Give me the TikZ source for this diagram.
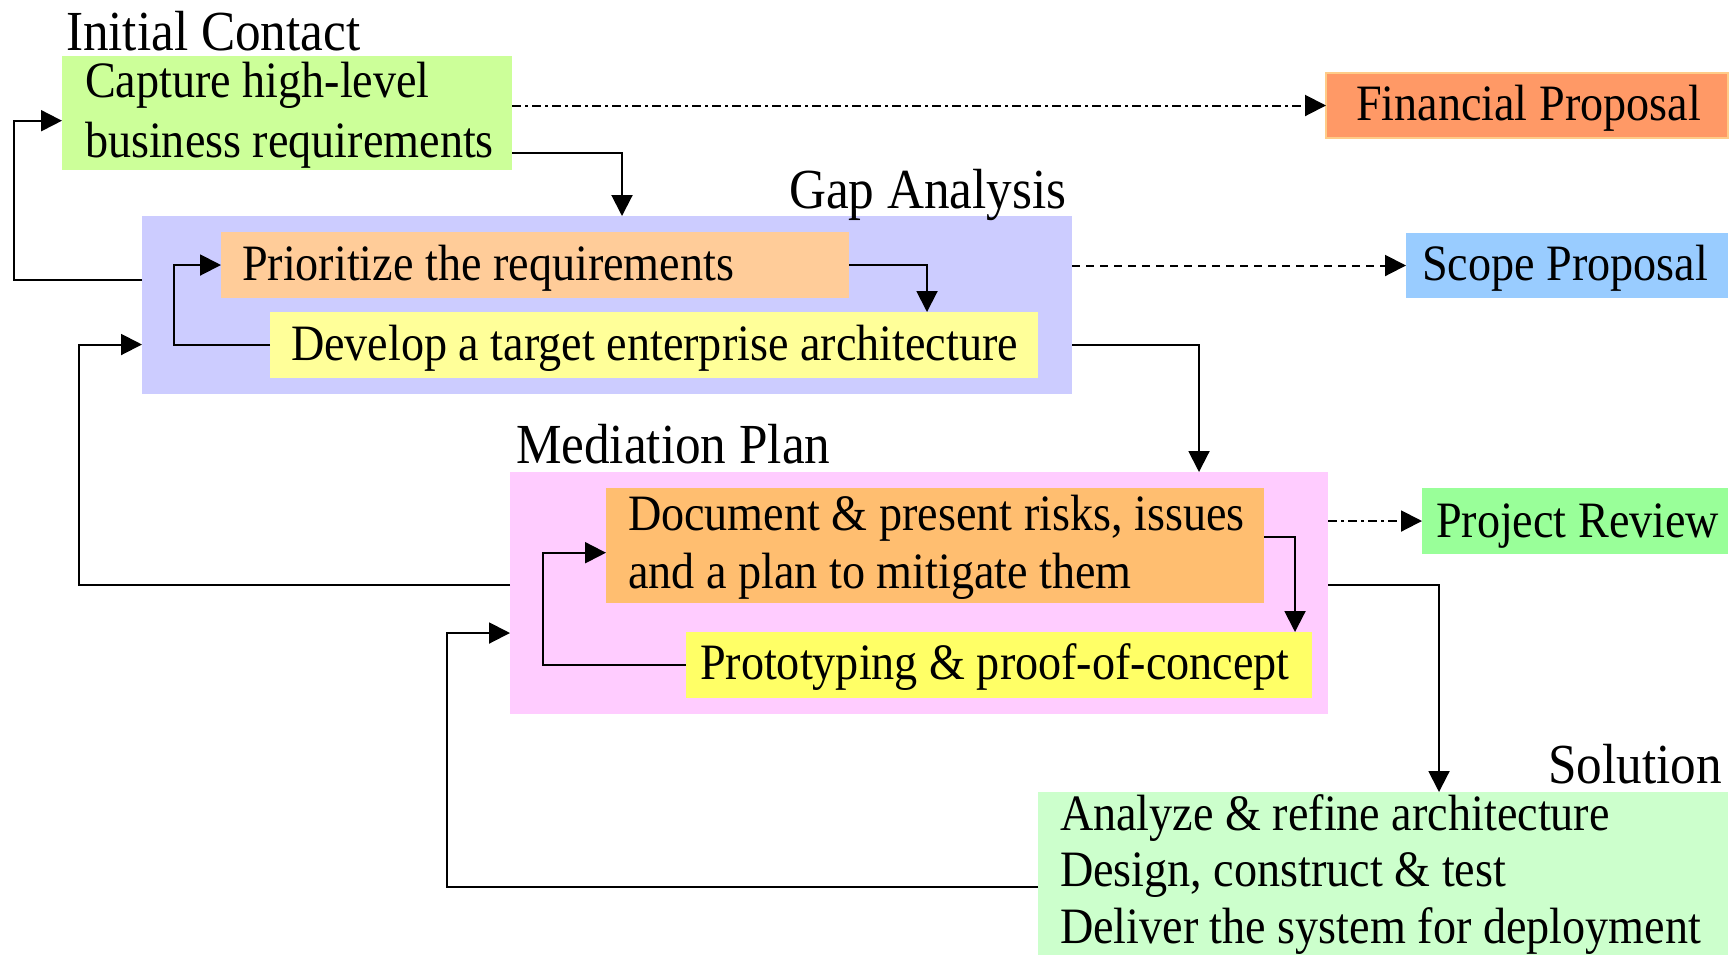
\documentclass[tikz,border=0pt]{standalone}
\usepackage{fontspec}
\setmainfont{Liberation Serif}[FakeStretch=0.905]
\usetikzlibrary{arrows.meta}
\definecolor{cgreen}{HTML}{CCFF99}
\definecolor{cfin}{HTML}{FF9966}
\definecolor{cfinb}{HTML}{FFCC88}
\definecolor{cgap}{HTML}{CCCCFF}
\definecolor{cprio}{HTML}{FFCC99}
\definecolor{cdev}{HTML}{FFFF99}
\definecolor{cscope}{HTML}{99CCFF}
\definecolor{cmed}{HTML}{FFCCFF}
\definecolor{cdoc}{HTML}{FFBE70}
\definecolor{cproto}{HTML}{FFFF66}
\definecolor{creview}{HTML}{99FF99}
\definecolor{csol}{HTML}{CCFFCC}
\tikzset{
  box/.style={rectangle, inner sep=0pt, outer sep=0pt, draw=none, anchor=north west},
  txt/.style={inner sep=0pt, outer sep=0pt, anchor=base west, font=\fontsize{25.5pt}{30pt}\selectfont},
  lbl/.style={inner sep=0pt, outer sep=0pt, font=\fontsize{28.3pt}{33pt}\selectfont},
  conn/.style={line width=1pt, line join=miter},
  arr/.style={conn, -{Triangle[length=10.5pt,width=10.5pt]}},
  darr/.style={arr, dash pattern=on 4pt off 3pt},
  ddarr/.style={arr, dash pattern=on 4.5pt off 2pt on 1.5pt off 2pt},
}
\begin{document}
\begin{tikzpicture}[x=0.5pt, y=-0.5pt]
\useasboundingbox (0,0) rectangle (1733,955);
% boxes
\node[box, fill=cgreen, minimum width=225pt, minimum height=57pt] (green) at (62,56) {};
\node[box, fill=cfin, draw=cfinb, line width=0.6pt, minimum width=201pt, minimum height=32.5pt] (fin) at (1326,73) {};
\node[box, fill=cgap, minimum width=465pt, minimum height=89pt] (gap) at (142,216) {};
\node[box, fill=cprio, minimum width=314pt, minimum height=33pt] (prio) at (221,232) {};
\node[box, fill=cdev, minimum width=384pt, minimum height=33pt] (dev) at (270,312) {};
\node[box, fill=cscope, minimum width=161pt, minimum height=32.5pt] (scope) at (1406,233) {};
\node[box, fill=cmed, minimum width=409pt, minimum height=121pt] (med) at (510,472) {};
\node[box, fill=cdoc, minimum width=329pt, minimum height=57.25pt] (doc) at (606,488) {};
\node[box, fill=cproto, minimum width=313pt, minimum height=33pt] (proto) at (686,632) {};
\node[box, fill=creview, minimum width=153pt, minimum height=33pt] (review) at (1422,488) {};
\node[box, fill=csol, minimum width=345pt, minimum height=81.5pt] (sol) at (1038,792) {};
% texts
\node[lbl, anchor=base west] (tinit) at (66,50) {Initial Contact};
\node[txt] (tcap1) at (85,97.5) {Capture high-level};
\node[txt] (tcap2) at (85,157.5) {business requirements};
\node[txt] (tfin) at (1356,120.7) {Financial Proposal};
\node[lbl, anchor=base east] (tgap) at (1066.5,208) {Gap Analysis};
\node[txt] (tprio) at (242,280) {Prioritize the requirements};
\node[txt] (tdev) at (291,360) {Develop a target enterprise architecture};
\node[txt] (tscope) at (1422,280) {Scope Proposal};
\node[lbl, anchor=base west] (tmed) at (516,463.5) {Mediation Plan};
\node[txt] (tdoc1) at (628,530) {Document \& present risks, issues};
\node[txt] (tdoc2) at (628,588.3) {and a plan to mitigate them};
\node[txt] (tproto) at (700,679.5) {Prototyping \& proof-of-concept};
\node[txt] (treview) at (1436,537.3) {Project Review};
\node[lbl, anchor=base east] (tsol) at (1722,783.3) {Solution};
\node[txt] (tsol1) at (1060,830) {Analyze \& refine architecture};
\node[txt] (tsol2) at (1060,886.7) {Design, construct \& test};
\node[txt] (tsol3) at (1060,943) {Deliver the system for deployment};
% bend points
\coordinate (L1) at (14,280);
\coordinate (L1t) at (14,120.7);
\coordinate (A) at (622,153);
\coordinate (B) at (927,265);
\coordinate (C) at (174,345);
\coordinate (D) at (1199,344.5);
\coordinate (E) at (79,585);
\coordinate (F) at (1295,537);
\coordinate (G) at (543,665);
\coordinate (H) at (543,552.7);
\coordinate (J) at (1439,585);
\coordinate (K) at (447,887);
\coordinate (K2) at (447,633);
% connectors
\draw[arr] (gap.west |- L1) -- (L1) -- (L1t) -- (green.west |- L1t);
\draw[arr] (green.east |- A) -- (A) -- (gap.north -| A);
\draw[ddarr] (green.east |- fin.west) -- (fin.west);
\draw[arr] (prio.east) -- (B) -- (dev.north -| B);
\draw[arr] (dev.west) -- (C) |- (prio.west);
\draw[darr] (gap.east |- scope.west) -- (scope.west);
\draw[arr] (gap.east |- D) -- (D) -- (med.north -| D);
\draw[arr] (med.west |- E) -- (E) |- (gap.west |- D);
\draw[arr] (doc.east |- F) -- (F) -- (proto.north -| F);
\draw[arr] (proto.west) -- (G) -- (H) -- (doc.west |- H);
\draw[ddarr] (med.east |- review.west) -- (review.west);
\draw[arr] (med.east |- J) -- (J) -- (sol.north -| J);
\draw[arr] (sol.west |- K) -- (K) -- (K2) -- (med.west |- K2);
\end{tikzpicture}
\end{document}
